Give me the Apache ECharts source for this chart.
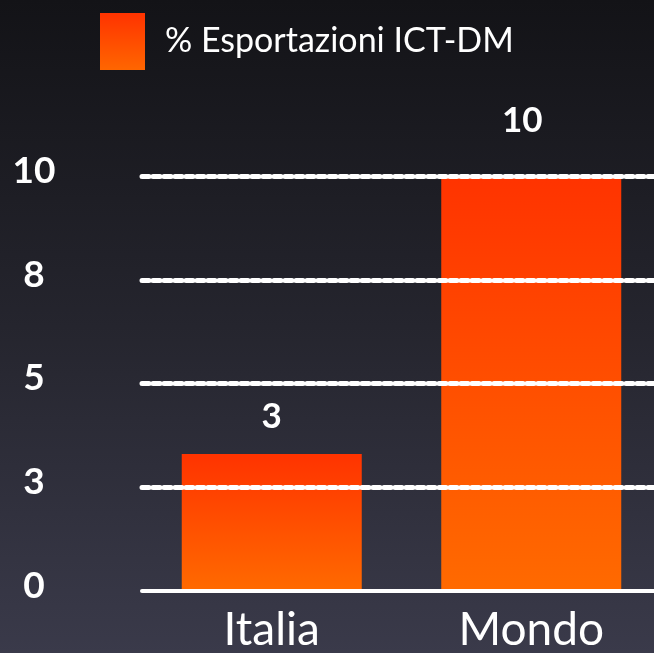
<!DOCTYPE html>
<html><head><meta charset="utf-8">
<script src="https://cdn.jsdelivr.net/npm/echarts@6/dist/echarts.min.js"></script>
<style>html,body{margin:0;padding:0;background:#141418;overflow:hidden}#c{width:661px;height:653px}</style>
</head><body><div id="c"></div>
<script>
const categories = ['Italia', 'Mondo'];
const values = [3.3, 10];
const yTicks = [0, 2.5, 5, 7.5, 10];
const seriesName = '% Esportazioni ICT-DM';

const FONT = 'Lato, "Noto Sans", sans-serif';
const barGrad = new echarts.graphic.LinearGradient(0, 0, 0, 1, [
  {offset: 0, color: '#ff3300'}, {offset: 1, color: '#ff6a00'}
]);
const chart = echarts.init(document.getElementById('c'));
chart.setOption({
  backgroundColor: new echarts.graphic.LinearGradient(0, 0, 0, 1, [
    {offset: 0, color: '#131317'}, {offset: 0.5, color: '#25252e'}, {offset: 1, color: '#3a3a4a'}
  ]),
  animation: false,
  legend: {
    left: 100, top: 13, padding: 0, itemWidth: 45, itemHeight: 57, itemGap: 20,
    textStyle: {color: '#ffffff', fontFamily: FONT, fontSize: 34, padding: [0,0,4,15]},
    data: [{name: seriesName, icon: 'rect', itemStyle: {color: new echarts.graphic.LinearGradient(0,0,0,1,[{offset:0,color:'#ff3300'},{offset:1,color:'#ff6600'}])}}]
  },
  grid: {left: 142, right: 0, top: 176, bottom: 59, containLabel: false},
  xAxis: {
    type: 'category', data: categories, z: 5,
    axisLine: {show: true, lineStyle: {color: '#ffffff', width: 4, cap: 'round'}},
    axisTick: {show: false},
    axisLabel: {color: '#ffffff', fontFamily: FONT, fontSize: 46, margin: 16}
  },
  yAxis: {
    type: 'value', min: 0, max: 10, interval: 2.5, z: 4,
    axisLine: {show: false}, axisTick: {show: false},
    axisLabel: {color: '#ffffff', fontFamily: FONT, fontSize: 37, fontWeight: 'bold', align: 'center', margin: 108,
      verticalAlign: 'bottom', lineHeight: 10, formatter: v => String(Math.round(v))},
    splitLine: {show: true, showMinLine: false, lineStyle: {color: '#ffffff', width: 5, type: [7, 4], cap: 'round'}}
  },
  series: [{
    name: seriesName, type: 'bar', barWidth: 180, z: 2,
    itemStyle: {color: barGrad},
    label: {show: true, position: 'top', color: '#ffffff', fontFamily: FONT, fontSize: 35, fontWeight: 'bold',
      formatter: p => String(Math.round(p.value))},
    data: values.map((v, i) => ({value: v, label: i === 0 ? {distance: 20} : {distance: 38, offset: [-9, 0]}}))
  }]
});
</script></body></html>
